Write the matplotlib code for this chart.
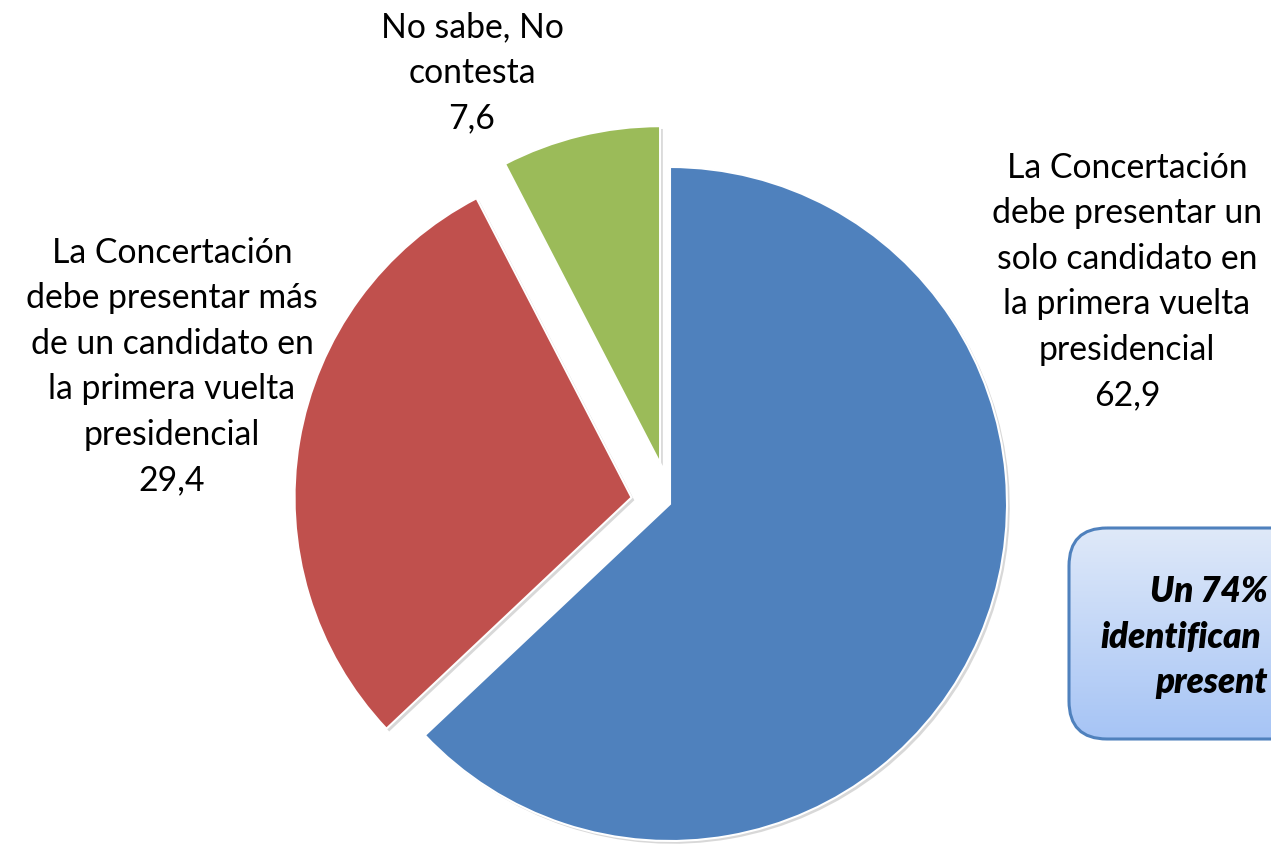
import matplotlib
matplotlib.use("Agg")
import matplotlib.pyplot as plt
import matplotlib.patheffects as pe
from matplotlib.patches import FancyBboxPatch
import numpy as np

# Data
categories = [
    "La Concertación\ndebe presentar un\nsolo candidato en\nla primera vuelta\npresidencial",
    "La Concertación\ndebe presentar más\nde un candidato en\nla primera vuelta\npresidencial",
    "No sabe, No\ncontesta",
]
values = [62.9, 29.4, 7.6]
value_labels = ["62,9", "29,4", "7,6"]
colors = ["#4F81BD", "#C0504D", "#9BBB59"]
callout_lines = ["Un 74%", "identifican", "present"]

W, H = 1271, 845
fig = plt.figure(figsize=(W / 100, H / 100), dpi=100)
ax = fig.add_axes([0, 0, 1, 1])

radius = 337
center = (670, 505)
explode = [0, 39, 42]

# y axis is inverted below, so startangle=-90 with counterclock=True draws
# clockwise from 12 o'clock on screen
wedges, _ = ax.pie(values, colors=colors, startangle=-90, counterclock=True,
                   radius=radius, center=center, explode=explode,
                   wedgeprops=dict(edgecolor="white", linewidth=1.5))
for w in wedges:
    w.set_path_effects([pe.SimplePatchShadow(offset=(2, -2), alpha=0.3, shadow_rgbFace="gray"),
                        pe.Normal()])

font = "Lato"
fs = 24.3
ls = 1.52
ax.text(1127, 281.5, categories[0] + "\n" + value_labels[0], ha="center", va="center",
        fontsize=fs, family=font, linespacing=ls, color="black")
ax.text(172, 366.5, categories[1] + "\n" + value_labels[1], ha="center", va="center",
        fontsize=fs, family=font, linespacing=ls, color="black")
ax.text(472, 73, categories[2] + "\n" + value_labels[2], ha="center", va="center",
        fontsize=fs, family=font, linespacing=ls, color="black")

# Callout box (partly off-canvas)
box_x0, box_y0, box_w, box_h = 1069, 529, 320, 211
grad = np.linspace(0, 1, 256).reshape(-1, 1)
c_top = np.array([0xDF, 0xE9, 0xF9]) / 255
c_bot = np.array([0xA6, 0xC4, 0xF5]) / 255
img = c_top[None, None, :] * (1 - grad[:, :, None]) + c_bot[None, None, :] * grad[:, :, None]
box = FancyBboxPatch((box_x0, box_y0), box_w, box_h,
                     boxstyle="round,pad=0,rounding_size=38",
                     facecolor="none", edgecolor="#4F81BD", linewidth=2.2, zorder=5)
ax.add_patch(box)
im = ax.imshow(img, extent=(box_x0, box_x0 + box_w, box_y0 + box_h, box_y0),
               aspect="auto", zorder=4)
im.set_clip_path(box)

ax.set_xlim(0, W)
ax.set_ylim(H, 0)
ax.set_aspect("equal")
ax.axis("off")

cfs = 25
ax.text(1150, 592, callout_lines[0], ha="left", va="center", fontsize=cfs,
        family=font, style="italic", weight="heavy", zorder=6)
ax.text(1100, 638, callout_lines[1], ha="left", va="center", fontsize=cfs,
        family=font, style="italic", weight="heavy", zorder=6)
ax.text(1155, 683, callout_lines[2], ha="left", va="center", fontsize=cfs,
        family=font, style="italic", weight="heavy", zorder=6)

fig.savefig("out.png", dpi=100)
